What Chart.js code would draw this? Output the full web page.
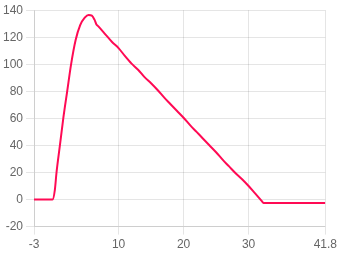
<!DOCTYPE html>
<html>
<head>
<meta charset="utf-8">
<script src="https://cdn.jsdelivr.net/npm/chart.js@4/dist/chart.umd.min.js"></script>
<style>
  html, body { margin: 0; padding: 0; background: #fff; }
  #wrap { width: 340px; height: 255px; }
</style>
</head>
<body>
<div id="wrap"><canvas id="c" width="340" height="255"></canvas></div>
<script>
const xValues = [-3, -1.5, -0.15, 0.2, 0.46, 0.98, 1.5, 2.1, 2.7, 3.4, 4.1, 4.8, 5.4, 5.9, 6.3, 6.6, 6.9,
  8, 9, 10, 11, 12, 13, 14, 15, 16, 17, 18, 19, 20, 21, 22, 23, 24, 25, 26, 27, 28, 29, 30, 31, 32, 32.3, 36, 41.8];
const yValues = [0, 0, 0, 7, 20, 40, 60, 80, 100, 118, 129, 134.5, 136.5, 136, 133, 129.5, 128,
  122, 116.5, 112, 106, 100.5, 96, 90.5, 86, 81, 75.5, 70.5, 65.5, 60.5, 55, 50, 45, 40, 35, 29.5, 24.5, 19.5, 15, 10, 4.5, -1, -2.5, -2.5, -2.5];
const xTicks = [-3, 10, 20, 30, 41.8];
const yTicks = [-20, 0, 20, 40, 60, 80, 100, 120, 140];

const points = xValues.map((x, i) => ({ x: x, y: yValues[i] }));

new Chart(document.getElementById('c'), {
  type: 'line',
  data: {
    datasets: [{
      data: points,
      borderColor: '#ff0a54',
      backgroundColor: '#ff0a54',
      borderWidth: 2,
      pointRadius: 0,
      cubicInterpolationMode: 'monotone',
      fill: false
    }]
  },
  options: {
    responsive: false,
    animation: false,
    plugins: { legend: { display: false }, tooltip: { enabled: false } },
    scales: {
      x: {
        type: 'linear',
        min: xTicks[0],
        max: xTicks[xTicks.length - 1],
        afterBuildTicks: s => { s.ticks = xTicks.map(v => ({ value: v })); },
        ticks: { color: '#666', font: { size: 12 }, maxRotation: 0 }
      },
      y: {
        min: yTicks[0],
        max: yTicks[yTicks.length - 1],
        afterBuildTicks: s => { s.ticks = yTicks.map(v => ({ value: v })); },
        ticks: { color: '#666', font: { size: 12 } }
      }
    }
  }
});
</script>
</body>
</html>
